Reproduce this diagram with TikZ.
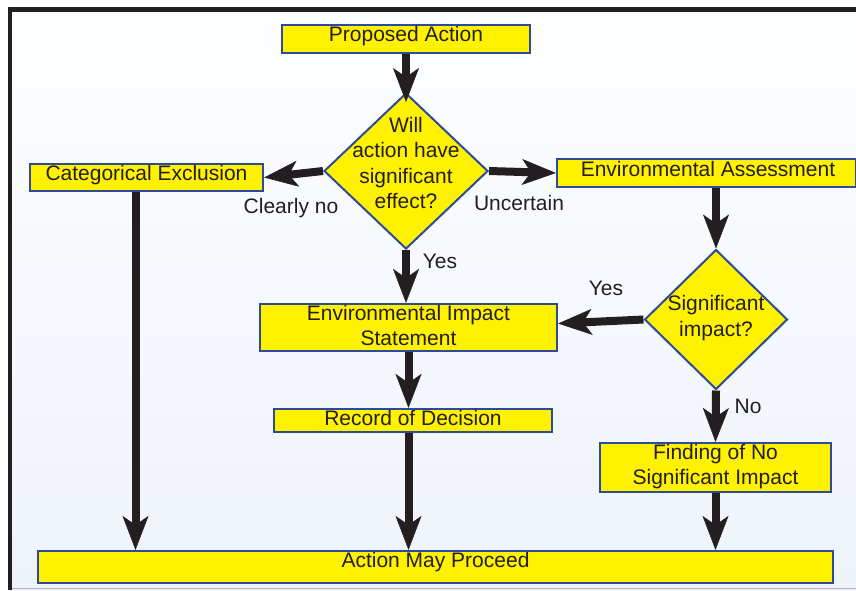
\documentclass[tikz,border=0pt]{standalone}
\usepackage{fontspec}
\setmainfont{Liberation Sans}
\usetikzlibrary{arrows.meta,shapes.geometric}
\definecolor{boxfill}{HTML}{FFF200}
\definecolor{boxline}{HTML}{2E4A9B}
\definecolor{ink}{HTML}{231F20}
\definecolor{bgtop}{HTML}{FDFEFF}
\definecolor{bgbot}{HTML}{EEF3FA}
\tikzset{
  box/.style={draw=boxline, fill=boxfill, line width=2.2pt, inner sep=0pt},
  dmd/.style={diamond, draw=boxline, fill=boxfill, line width=2pt, inner sep=0pt},
  txt/.style={text=ink, font=\fontsize{21}{25.5}\selectfont, inner sep=0pt, align=center},
  flow/.style={draw=ink, line width=8pt, -{Stealth[length=34pt,width=26pt,inset=9pt,line width=0.5pt]}},
}
\begin{document}
\begin{tikzpicture}[x=1pt,y=-1pt]
\useasboundingbox (0,0) rectangle (856,590);
\shade[top color=bgtop,bottom color=bgbot] (10,10) rectangle (856,590);
\draw[ink, line width=4.5pt] (10,590) -- (10,9.5) -- (856,9.5);
\draw[gray!60, line width=1pt] (12,588.5) -- (856,588.5);

% boxes
\node[box, minimum width=248pt, minimum height=28pt] (pa) at (406,39) {};
\node[box, minimum width=233pt, minimum height=27pt] (ce) at (146.5,177.5) {};
\node[box, minimum width=299pt, minimum height=28pt] (ea) at (706.5,173) {};
\node[box, minimum width=297pt, minimum height=47pt] (eis) at (408.5,327.5) {};
\node[box, minimum width=278pt, minimum height=23pt] (rod) at (413,420.5) {};
\node[box, minimum width=231pt, minimum height=49pt] (fonsi) at (715.5,467.5) {};
\node[box, minimum width=795pt, minimum height=32pt] (amp) at (435.5,567) {};
\node[dmd, minimum width=164pt, minimum height=156pt] (d1) at (406,171) {};
\node[dmd, minimum width=143pt, minimum height=140pt] (d2) at (716,319.5) {};

% texts
\node[txt, anchor=base] (pat) at (406,41) {Proposed Action};
\node[txt, anchor=base] (cet) at (146.5,180) {Categorical Exclusion};
\node[txt, anchor=base] (eat) at (708,176) {Environmental Assessment};
\node[txt] (eist) at (408.5,325.5) {Environmental Impact\\Statement};
\node[txt, anchor=base] (rodt) at (413,425.7) {Record of Decision};
\node[txt] (fonsit) at (715.5,466.8) {Finding of No\\Significant Impact};
\node[txt, anchor=base] (ampt) at (435.5,567.3) {Action May Proceed};
\node[txt] (d1t) at (406,163) {Will\\action have\\significant\\effect?};
\node[txt] (d2t) at (716,318) {Significant\\impact?};

% labels
\node[txt, anchor=base] (lno) at (291,213) {Clearly no};
\node[txt, anchor=base] (lunc) at (519,210) {Uncertain};
\node[txt, anchor=base] (lyes1) at (440,268) {Yes};
\node[txt, anchor=base] (lyes2) at (606,295) {Yes};
\node[txt, anchor=base] (lno2) at (748,413) {No};

% connectors
\coordinate (ceout) at ([xshift=-11pt]ce.south);
\coordinate (eisout) at (eis.south);
\draw[flow] (pa.south) -- ([yshift=-10pt]d1.north);
\draw[flow] (d1.west) -- (ce.east);
\draw[flow] (d1.east) -- (ea.west);
\draw[flow] (d1.south) -- (d1.south |- eis.north);
\draw[flow] (ea.south -| d2.north) -- (d2.north);
\draw[flow] (d2.west) -- ([yshift=4pt]eis.east);
\draw[flow] (d2.south) -- (fonsi.north);
\draw[flow] (eisout) -- (eisout |- rod.north);
\draw[flow] (eisout |- rod.south) -- (eisout |- amp.north);
\draw[flow] (ceout) -- (ceout |- amp.north);
\draw[flow] (fonsi.south) -- (fonsi.south |- amp.north);
\end{tikzpicture}
\end{document}
